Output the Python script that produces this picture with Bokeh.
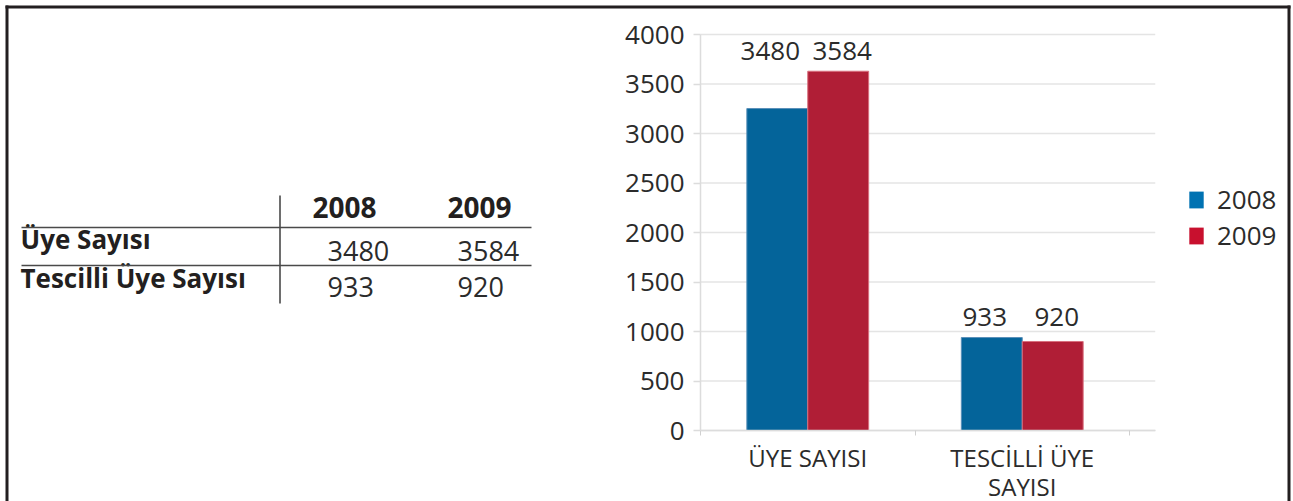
from bokeh.plotting import figure
from bokeh.models import Range1d, FixedTicker, Legend, LegendItem, LinearAxis
from bokeh.embed import file_html
from bokeh.resources import INLINE
from bokeh.core.properties import value

# ---------------- data ----------------
categories = ["ÜYE SAYISI", "TESCİLLİ ÜYE\nSAYISI"]
row_labels = ["Üye Sayısı", "Tescilli Üye Sayısı"]
years = ["2008", "2009"]
values_2008 = [3480, 933]          # printed values
values_2009 = [3584, 920]
bar_height_2008 = [3252, 939]      # bar heights as drawn in the picture
bar_height_2009 = [3629, 899]
y_ticks = [0, 500, 1000, 1500, 2000, 2500, 3000, 3500, 4000]

# ---------------- styles ----------------
FONT = "Open Sans"
TXT = "#2b2b2b"
FRAME = "#231f20"
BLUE, RED = "#04649a", "#b01e36"
BLUE_LEG, RED_LEG = "#0072b2", "#c8102e"
GRID = "#e4e4e4"

# ---------------- geometry (canvas pixels) ----------------
W, H = 1291, 501
PX_X = 214.5                     # px per category
PX_Y = 396 / 4000                # px per value unit
ORIGIN_X = 700                   # canvas px of category axis origin
ORIGIN_Y = 430                   # canvas px (from top) of value 0
BL = 0.4                         # alphabetic baseline correction (em)

x_start = -ORIGIN_X / PX_X
x_end = (W - ORIGIN_X) / PX_X
y_end = ORIGIN_Y / PX_Y
y_start = -(H - ORIGIN_Y) / PX_Y

p = figure(width=W, height=H, x_range=Range1d(x_start, x_end), y_range=Range1d(y_start, y_end),
           toolbar_location=None, output_backend="svg", min_border=0,
           x_axis_location=None, y_axis_location=None, outline_line_color=None)
p.grid.visible = False
# pixel ranges for the table and the outer frame
p.extra_x_ranges = {"px": Range1d(0, W)}
p.extra_y_ranges = {"py": Range1d(H, 0)}
PXR = dict(x_range_name="px", y_range_name="py")

# ---------------- outer frame ----------------
p.segment(x0=[6.5, 5, 1288.5], y0=[H, 6.5, 5], x1=[6.5, 1290, 1288.5], y1=[5, 6.5, H],
          line_color=FRAME, line_width=3, **PXR)

# ---------------- table ----------------
def tbl_text(xs, ys, texts, size, bold=False, color=TXT):
    p.text(x=xs, y=[y - BL * size for y in ys], text=texts, text_font=value(FONT),
           text_font_style="bold" if bold else "normal", text_font_size=f"{size}px",
           text_color=color, text_baseline="alphabetic", text_align="left", **PXR)

col_x_header = [312, 447]
col_x_value = [327, 457]
tbl_text(col_x_header, [218, 218], years, 28, bold=True, color=FRAME)
tbl_text([20, 20], [249, 288], row_labels, 26, bold=True, color=FRAME)
tbl_text([col_x_value[0]] * 2, [261, 297], [str(v) for v in values_2008], 27)
tbl_text([col_x_value[1]] * 2, [261, 297], [str(v) for v in values_2009], 27)
p.segment(x0=[21, 21, 279.5], y0=[227, 265, 195], x1=[531, 531, 279.5], y1=[227, 265, 303],
          line_color="#4a4a4a", line_width=1.6, **PXR)

# ---------------- chart ----------------
grid_end = 2.12
p.segment(x0=[0] * len(y_ticks), y0=y_ticks, x1=[grid_end] * len(y_ticks), y1=y_ticks,
          line_color=GRID, line_width=1.5)

pos = [i + 0.5 for i in range(len(categories))]
bw = 0.284
x08 = [c - bw / 2 for c in pos]
x09 = [c + bw / 2 for c in pos]
p.vbar(x=x08, top=bar_height_2008, width=bw, fill_color=BLUE, line_color="#5a8fb8", line_width=1)
p.vbar(x=x09, top=bar_height_2009, width=bw, fill_color=RED, line_color="#d8707e", line_width=1)

label_y = [max(a, b) for a, b in zip(bar_height_2008, bar_height_2009)]
p.text(x=x08, y=label_y, text=[str(v) for v in values_2008], text_font=value(FONT),
       text_font_size="26px", text_color=TXT, text_align="center",
       text_baseline="alphabetic", y_offset=-10 - BL * 26, x_offset=-7)
p.text(x=x09, y=label_y, text=[str(v) for v in values_2009], text_font=value(FONT),
       text_font_size="26px", text_color=TXT, text_align="center",
       text_baseline="alphabetic", y_offset=-10 - BL * 26, x_offset=4)

# y axis, fixed at category origin
ya = LinearAxis(fixed_location=0, ticker=FixedTicker(ticks=y_ticks), bounds=(0, 4000))
ya.axis_line_color = "#dcdcdc"
ya.axis_line_width = 1.5
ya.major_tick_line_color = "#dcdcdc"
ya.major_tick_line_width = 1.5
ya.major_tick_out = 7
ya.major_tick_in = 0
ya.minor_tick_line_color = None
ya.major_label_text_font = FONT
ya.major_label_text_font_size = "26px"
ya.major_label_text_color = TXT
ya.major_label_standoff = 9
p.add_layout(ya, "left")

# x axis, fixed at value 0
xa = LinearAxis(fixed_location=0, ticker=FixedTicker(ticks=pos, minor_ticks=[0, 1, 2]),
                bounds=(0, grid_end))
xa.axis_line_color = "#dcdcdc"
xa.axis_line_width = 1.5
xa.major_tick_line_color = None
xa.minor_tick_line_color = "#d0d0d0"
xa.minor_tick_out = 5
xa.minor_tick_in = 0
xa.major_label_overrides = {pos[i]: categories[i] for i in range(len(categories))}
xa.major_label_text_font = FONT
xa.major_label_text_font_size = "24px"
xa.major_label_text_color = TXT
xa.major_label_standoff = 4
xa.major_label_text_line_height = 0.9
p.add_layout(xa, "below")

# legend (swatches are brighter than the bars in the reference)
r08 = p.vbar(x=x08, top=bar_height_2008, width=bw, fill_color=BLUE_LEG, line_color=None, visible=False)
r09 = p.vbar(x=x09, top=bar_height_2009, width=bw, fill_color=RED_LEG, line_color=None, visible=False)
legend = Legend(items=[LegendItem(label=years[0], renderers=[r08]),
                       LegendItem(label=years[1], renderers=[r09])],
                location=(1187, 248), glyph_width=18, glyph_height=21,
                label_text_font=FONT, label_text_font_size="26px", label_text_color=TXT,
                label_standoff=12, spacing=0, padding=0, margin=0,
                border_line_color=None, background_fill_alpha=0,
                inactive_fill_alpha=0)
p.add_layout(legend)

open("out.html", "w").write(file_html(p, INLINE))
